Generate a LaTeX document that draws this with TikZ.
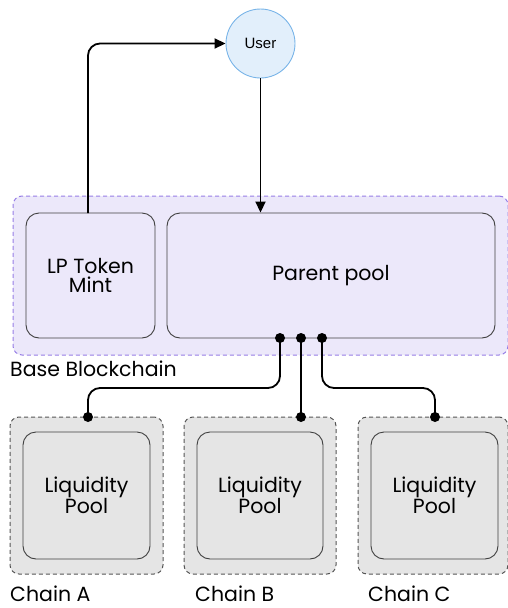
\documentclass[tikz,border=0pt]{standalone}
\usepackage{fontspec}
\setmainfont{Poppins}
\newfontfamily\userfont{Liberation Sans}
\usetikzlibrary{arrows.meta,calc}
\definecolor{lavfill}{RGB}{236,232,250}
\definecolor{lavline}{RGB}{150,125,230}
\definecolor{greyfill}{RGB}{229,229,229}
\definecolor{greyline}{RGB}{85,85,85}
\definecolor{userfill}{RGB}{226,239,251}
\definecolor{userline}{RGB}{120,180,232}
\tikzset{
  zone/.style={draw=lavline, fill=lavfill, dash pattern=on 4pt off 3pt, line width=1pt, rounded corners=9pt},
  chainzone/.style={draw=greyline, fill=greyfill, dash pattern=on 4pt off 3pt, line width=1pt, rounded corners=9pt},
  basebox/.style={draw=black!75, fill=lavfill, line width=0.9pt, rounded corners=13pt, align=center, font=\fontsize{20.5}{19.5}\selectfont},
  poolbox/.style={draw=black!75, fill=greyfill, line width=0.9pt, rounded corners=13pt, align=center, font=\fontsize{20.5}{19.5}\selectfont},
  conn/.style={draw=black, line width=1.8pt, rounded corners=12pt},
  flow/.style={conn, -{Triangle[length=11pt,width=10pt]}},
  joint/.style={circle, fill=black, inner sep=0pt, minimum size=10pt},
  caption/.style={anchor=west, inner sep=0pt, font=\fontsize{20.5}{20}\selectfont}
}
\begin{document}
\begin{tikzpicture}[x=1pt, y=-1pt]
\useasboundingbox (0,0) rectangle (508,608);

% base blockchain zone and its boxes
\node[zone, minimum width=495pt, minimum height=159pt] (base) at (260.5,275.5) {};
\node[basebox, minimum width=129pt, minimum height=125pt] (lp) at (90.5,275.5) {LP Token\\Mint};
\node[basebox, minimum width=328pt, minimum height=125pt] (parent) at (331,275.5) {Parent pool};
\node[caption] (basecap) at (10,369) {Base Blockchain};

% user
\node[circle, draw=userline, fill=userfill, line width=0.9pt, minimum size=69pt, inner sep=0pt,
      font=\userfont\fontsize{15}{15}\selectfont] (user) at (260.5,43.5) {User};

% chain zones
\node[chainzone, minimum width=153pt, minimum height=157pt] (chainA) at (86.5,495.5) {};
\node[chainzone, minimum width=152pt, minimum height=157pt] (chainB) at (260,495.5) {};
\node[chainzone, minimum width=150pt, minimum height=157pt] (chainC) at (433,495.5) {};
\node[poolbox, minimum width=127pt, minimum height=127pt] (poolA) at (86.5,495.5) {Liquidity\\Pool};
\node[poolbox, minimum width=126pt, minimum height=127pt] (poolB) at (260,495.5) {Liquidity\\Pool};
\node[poolbox, minimum width=127pt, minimum height=127pt] (poolC) at (434.5,495.5) {Liquidity\\Pool};
\node[caption] (capA) at (10,594) {Chain A};
\node[caption] (capB) at (195,594) {Chain B};
\node[caption] (capC) at (368,594) {Chain C};

% user flows
\coordinate (lpout) at (88,213);
\draw[flow] (lpout) |- (user.west);
\draw[flow] (user.south) -- (user.south |- parent.north);

% links from the parent pool to each chain
\coordinate (pA) at (280,338);
\coordinate (pB) at (301,338);
\coordinate (pC) at (322,338);
\coordinate (qA) at (88,417);
\coordinate (qB) at (301,417);
\coordinate (qC) at (435,417);
\coordinate (mA) at (88,388);
\coordinate (mC) at (435,388);
\draw[conn] (pA) |- (mA) -- (qA);
\draw[conn] (pB) -- (qB);
\draw[conn] (pC) |- (mC) -- (qC);
\foreach \p in {pA,pB,pC,qA,qB,qC} \node[joint] at (\p) {};
\end{tikzpicture}
\end{document}
